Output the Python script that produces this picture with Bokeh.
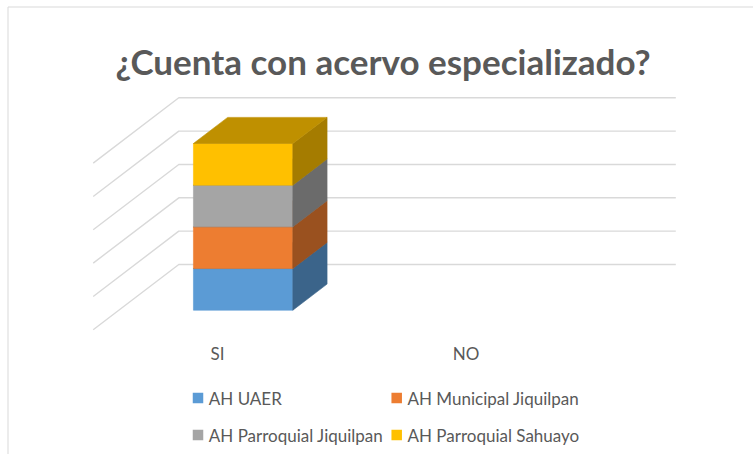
from bokeh.plotting import figure
from bokeh.models import Range1d
from bokeh.core.properties import value
from bokeh.embed import file_html
from bokeh.resources import INLINE

# ---------------- data ----------------
title = "¿Cuenta con acervo especializado?"
categories = ["SI", "NO"]
series_names = ["AH UAER", "AH Municipal Jiquilpan",
                "AH Parroquial Jiquilpan", "AH Parroquial Sahuayo"]
ah_uaer = [1, 0]
ah_municipal_jiquilpan = [1, 0]
ah_parroquial_jiquilpan = [1, 0]
ah_parroquial_sahuayo = [1, 0]
pct_ticks = [0, 20, 40, 60, 80, 100]   # 100% stacked value axis gridlines

# ---------------- style / layout ----------------
colors = ["#5B9BD5", "#ED7D31", "#A5A5A5", "#FFC000"]
TEXT_COLOR = "#595959"
GRID_COLOR = "#D9D9D9"
FONT = "Lato"

W, H = 753, 454
FLOOR_X0 = 92.7               # x of front-left floor corner (px)
FLOOR_Y0 = 329.3              # y of front floor edge, value 0 (px from top)
PX_CAT = 248.5                # pixels per category
PX_PCT = 1.667                # pixels per percent
DEPTH_DX = 85.6 / PX_CAT      # oblique depth offset (categories)
DEPTH_DY = 65.3 / PX_PCT      # oblique depth offset (percent)
BAR_W = 0.4
D_FRONT, D_BACK = 0.3, 0.7


def page_x(px):
    return (px - FLOOR_X0) / PX_CAT


def page_y(py):
    return (FLOOR_Y0 - py) / PX_PCT


def proj(x, v, d):
    return x + d * DEPTH_DX, v + d * DEPTH_DY


def shade(hex_color, f):
    h = hex_color.lstrip("#")
    r, g, b = (int(h[i:i + 2], 16) for i in (0, 2, 4))
    return "#%02x%02x%02x" % (int(r * f), int(g * f), int(b * f))


p = figure(width=W, height=H,
           x_range=Range1d(page_x(0), page_x(W)),
           y_range=Range1d(page_y(H), page_y(0)),
           x_axis_type=None, y_axis_type=None,
           output_backend="svg", toolbar_location=None,
           min_border=0, outline_line_color=None)
p.grid.visible = False
p.background_fill_color = "white"
p.border_fill_color = "white"

# chart border (top and left visible)
p.line(x=[page_x(7.5), page_x(7.5), page_x(W)],
       y=[page_y(H), page_y(6.5), page_y(6.5)],
       line_color=GRID_COLOR, line_width=1)

# gridlines: side wall and back wall
ncat = len(categories)
gxs, gys = [], []
for v in pct_ticks:
    bl = proj(0, v, 1)
    br = proj(ncat, v, 1)
    fl = proj(0, v, 0)
    gxs.append([fl[0], bl[0], br[0]])
    gys.append([fl[1], bl[1], br[1]])
p.multi_line(xs=gxs, ys=gys, line_color=GRID_COLOR, line_width=1.4)

# 3D stacked (100%) columns
series = [ah_uaer, ah_municipal_jiquilpan, ah_parroquial_jiquilpan, ah_parroquial_sahuayo]
totals = [sum(s[i] for s in series) for i in range(ncat)]
bottoms = [0.0] * ncat
for s, col in zip(series, colors):
    faces = {"front": ([], []), "side": ([], []), "top": ([], [])}
    for i in range(ncat):
        if totals[i] == 0 or s[i] == 0:
            continue
        b = bottoms[i]
        t = b + s[i] / totals[i] * 100
        bottoms[i] = t
        xc = i + 0.5
        x0, x1 = xc - BAR_W / 2, xc + BAR_W / 2
        polys = {
            "front": [proj(x0, b, D_FRONT), proj(x1, b, D_FRONT), proj(x1, t, D_FRONT), proj(x0, t, D_FRONT)],
            "side": [proj(x1, b, D_FRONT), proj(x1, b, D_BACK), proj(x1, t, D_BACK), proj(x1, t, D_FRONT)],
            "top": [proj(x0, t, D_FRONT), proj(x1, t, D_FRONT), proj(x1, t, D_BACK), proj(x0, t, D_BACK)],
        }
        for k, pts in polys.items():
            faces[k][0].append([q[0] for q in pts])
            faces[k][1].append([q[1] for q in pts])
    for k, f in (("front", 1.0), ("side", 0.65), ("top", 0.75)):
        c = shade(col, f)
        p.patches(xs=faces[k][0], ys=faces[k][1], fill_color=c, line_color=c, line_width=0.6)

# category labels
p.text(x=[i + 0.5 for i in range(ncat)], y=[page_y(353)] * ncat, text=categories,
       text_align="center", text_baseline="middle", text_color=TEXT_COLOR,
       text_font=value(FONT), text_font_size="17px")

# title
p.text(x=[page_x(382.5)], y=[page_y(60)], text=[title], text_align="center",
       text_baseline="alphabetic", text_color=TEXT_COLOR, text_font=value(FONT),
       text_font_size="35px", text_font_style="bold")

# legend (2 columns, row-major)
col_left = [192.3, 391.0]
row_mid = [397.5, 434.5]
lx, ly, tx = [], [], []
for j in range(len(series_names)):
    r, c = divmod(j, 2)
    lx.append(page_x(col_left[c] + 5.2))
    ly.append(page_y(row_mid[r]))
    tx.append(page_x(col_left[c] + 16))
p.scatter(x=lx, y=ly, marker="square", size=10.5, fill_color=colors, line_color=None)
p.text(x=tx, y=ly, text=series_names, text_align="left", text_baseline="middle",
       text_color=TEXT_COLOR, text_font=value(FONT), text_font_size="17px")

open("out.html", "w").write(file_html(p, INLINE))
